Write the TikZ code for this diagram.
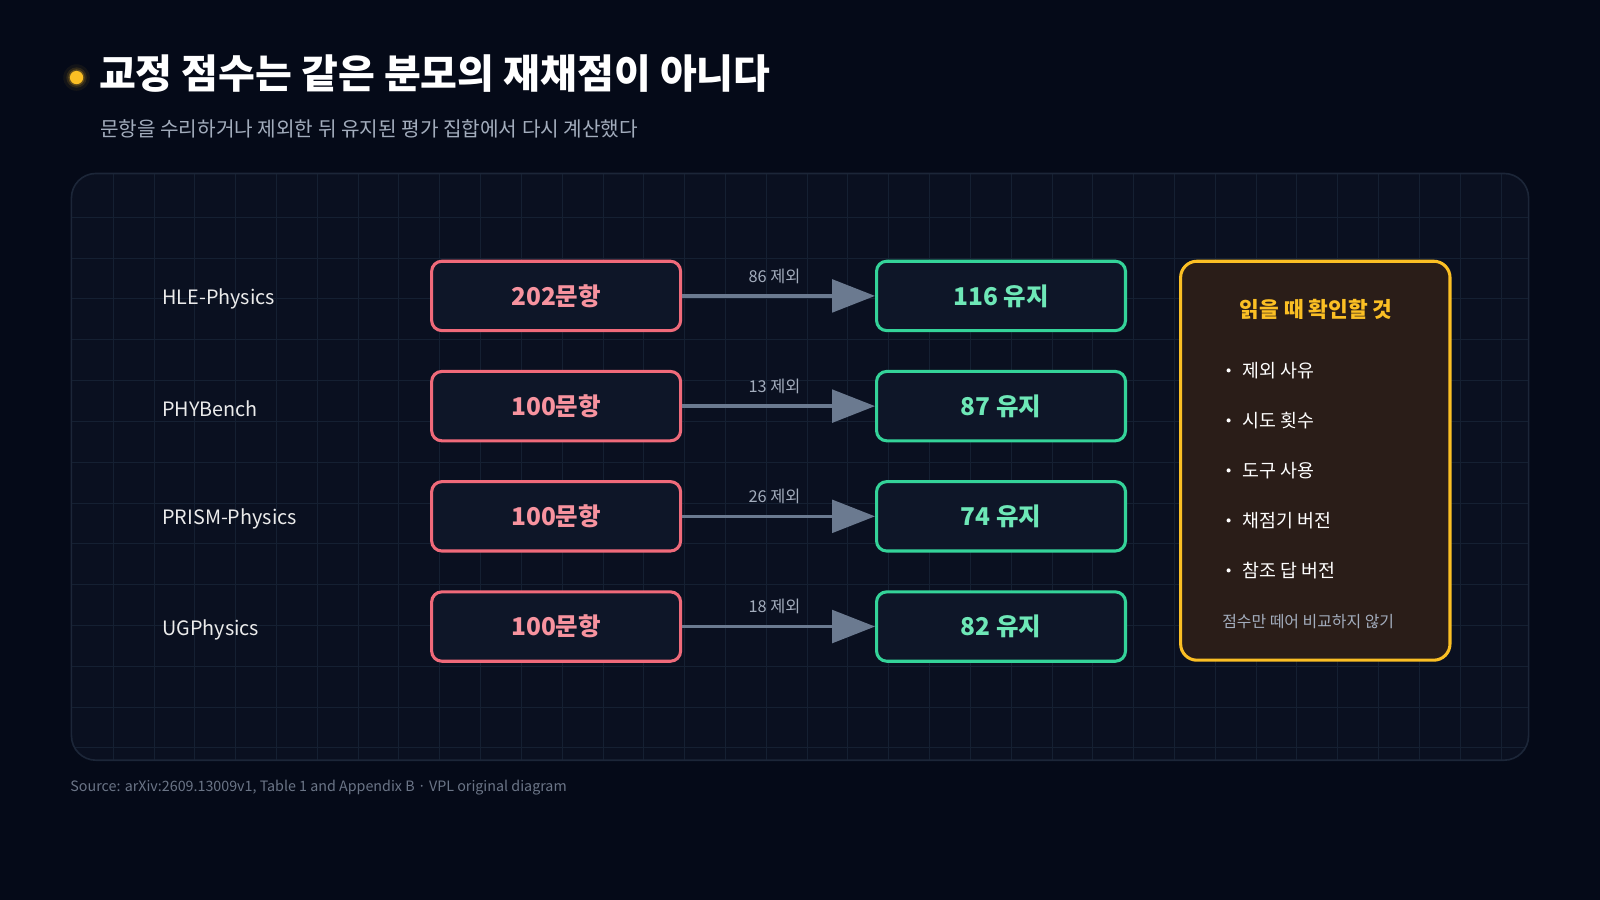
\documentclass[tikz,border=0pt]{standalone}
\usepackage{fontspec}
\setmainfont{Noto Sans CJK KR}
\usetikzlibrary{arrows.meta}
\definecolor{bg}{HTML}{050A18}
\definecolor{panel}{HTML}{0A1020}
\definecolor{gridc}{HTML}{152032}
\definecolor{pborder}{HTML}{1C2638}
\definecolor{redb}{HTML}{F06A7A}
\definecolor{redt}{HTML}{F7939F}
\definecolor{greenb}{HTML}{34D399}
\definecolor{greent}{HTML}{6EE7B7}
\definecolor{arrowc}{HTML}{6B7A90}
\definecolor{orange}{HTML}{FBBF24}
\definecolor{boxfill}{HTML}{0E1628}
\definecolor{notefill}{HTML}{2A1D18}
\definecolor{subt}{HTML}{A3ADBD}
\definecolor{srct}{HTML}{6B7587}
\tikzset{
  src/.style={draw=redb, line width=1.5pt, fill=boxfill, rounded corners=5pt, minimum width=122pt, minimum height=34pt, text=redt, font=\fontsize{12}{14}\selectfont\bfseries},
  dst/.style={draw=greenb, line width=1.5pt, fill=boxfill, rounded corners=5pt, minimum width=122pt, minimum height=34pt, text=greent, font=\fontsize{12}{14}\selectfont\bfseries},
  lbl/.style={anchor=west, text=white!92!black, font=\fontsize{9.7}{12}\selectfont},
  arr/.style={draw=arrowc, line width=1.6pt, -{Triangle[length=21pt,width=16pt]}},
  alab/.style={text=subt, font=\fontsize{8}{10}\selectfont},
  bul/.style={anchor=west, text=white, font=\fontsize{9}{11}\selectfont}
}
\begin{document}
\begin{tikzpicture}[x=0.5pt,y=-0.5pt]
\useasboundingbox (0,0) rectangle (1568,882);
\fill[bg] (0,0) rectangle (1568,882);
% title
\foreach \r/\o in {13/0.06,10/0.12,8/0.25} \fill[orange,opacity=\o] (75,76) circle (\r);
\fill[orange] (75,76) circle (6.5);
\node[anchor=west,text=white,font=\fontsize{19.6}{24}\selectfont\bfseries] (title) at (90,72) {교정 점수는 같은 분모의 재채점이 아니다};
\node[anchor=west,text=subt,font=\fontsize{9.9}{12}\selectfont] (sub) at (91,126) {문항을 수리하거나 제외한 뒤 유지된 평가 집합에서 다시 계산했다};
% panel
\fill[panel, rounded corners=12pt] (70,170) rectangle (1498,745);
\begin{scope}
\clip[rounded corners=12pt] (70,170) rectangle (1498,745);
\foreach \x in {111,151,...,1498} \draw[gridc,line width=0.5pt] (\x,170) -- (\x,745);
\foreach \y in {213,253,...,745} \draw[gridc,line width=0.5pt] (70,\y) -- (1498,\y);
\end{scope}
\draw[pborder,line width=0.8pt, rounded corners=12pt] (70,170) rectangle (1498,745);
% rows
\foreach \i/\y/\nm/\nn/\ex/\kp in {1/290/HLE-Physics/202/86/116,2/398/PHYBench/100/13/87,3/506/PRISM-Physics/100/26/74,4/614/UGPhysics/100/18/82}{
  \node[lbl] (l\i) at (152,\y+3) {\nm};
  \node[src] (s\i) at (545,\y) {\nn{}문항};
  \node[dst] (d\i) at (981,\y) {\kp{} 유지};
  \draw[arr] (s\i.east) -- (d\i.west) node[alab,midway,above=2pt,xshift=-2pt] (a\i) {\ex{} 제외};
}
% note
\draw[orange,line width=1.5pt,fill=notefill,rounded corners=8pt] (1157,256) rectangle (1421,647);
\node[text=orange,font=\fontsize{10.5}{13}\selectfont\bfseries] (nt) at (1290,303) {읽을 때 확인할 것};
\foreach \y/\t in {363/제외 사유,412/시도 횟수,461/도구 사용,510/채점기 버전,559/참조 답 버전}{
  \fill[white] (1204,\y) circle (2);
  \node[bul] at (1211,\y) {\t};
}
\node[text=subt,font=\fontsize{7.8}{10}\selectfont] (nf) at (1282,609) {점수만 떼어 비교하지 않기};
\node[anchor=west,text=srct,font=\fontsize{7}{9}\selectfont] (srcn) at (62,772) {Source: arXiv:2609.13009v1, Table 1 and Appendix B · VPL original diagram};
\end{tikzpicture}
\end{document}
